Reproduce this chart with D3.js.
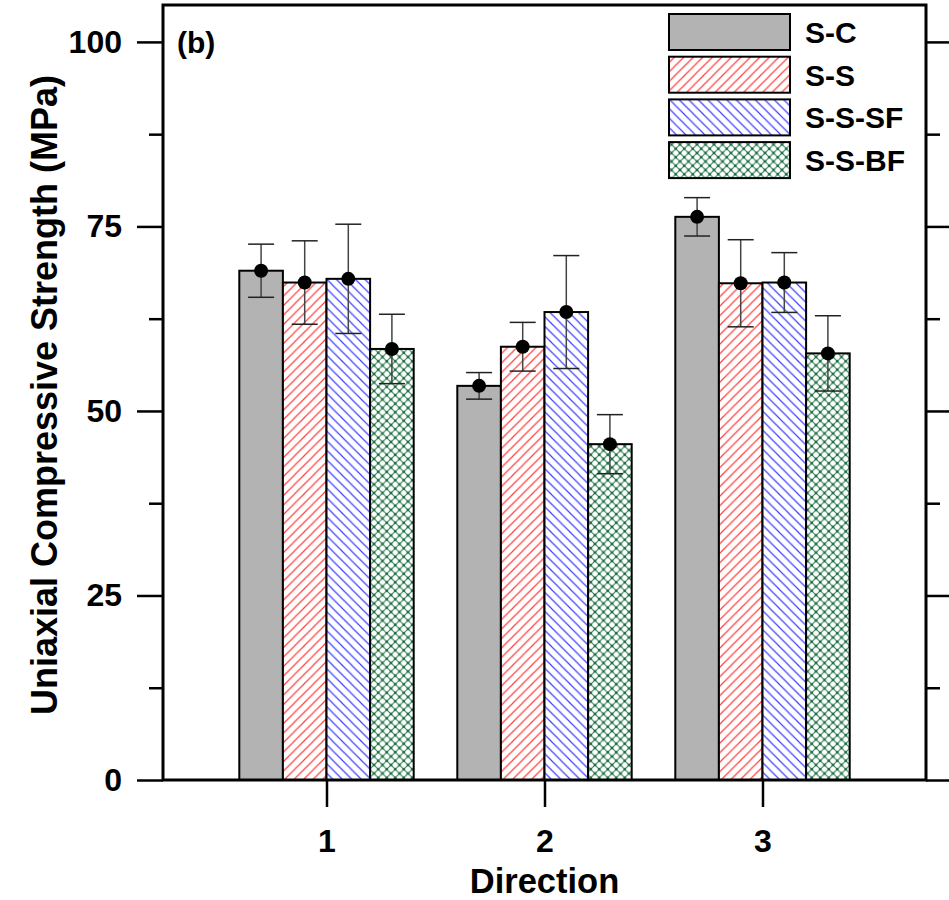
<!DOCTYPE html>
<html>
<head>
<meta charset="utf-8">
<script src="https://cdn.jsdelivr.net/npm/d3@7"></script>
<style>
  html, body { margin: 0; padding: 0; background: #fff; }
  svg { display: block; }
  text { font-family: "Liberation Sans", Arial, sans-serif; font-weight: bold; fill: #000; }
</style>
</head>
<body>
<svg id="chart" width="949" height="900"></svg>
<script>
// ---- Data ----
const categories = [1, 2, 3];
const seriesNames = ["S-C", "S-S", "S-S-SF", "S-S-BF"];
const scMean   = [69.0, 53.4, 76.3];
const scErr    = [3.6, 1.8, 2.6];
const ssMean   = [67.4, 58.7, 67.3];
const ssErr    = [5.65, 3.3, 5.9];
const sssfMean = [67.9, 63.4, 67.4];
const sssfErr  = [7.4, 7.65, 4.05];
const ssbfMean = [58.4, 45.5, 57.8];
const ssbfErr  = [4.7, 4.0, 5.1];
const yMajorTicks = [0, 25, 50, 75, 100];
const yMinorTicks = [12.5, 37.5, 62.5, 87.5];
const xTickLabels = ["1", "2", "3"];

const seriesMeans = [scMean, ssMean, sssfMean, ssbfMean];
const seriesErrs  = [scErr, ssErr, sssfErr, ssbfErr];
const fills = ["#b3b3b3", "url(#hatchRed)", "url(#hatchBlue)", "url(#crossGreen)"];

// ---- Layout ----
const L = 163, R = 926, T = 5, B = 780;
const svg = d3.select("#chart");
const x = d3.scaleLinear().domain([0.25, 3.75]).range([L, R]);
const y = d3.scaleLinear().domain([0, 105]).range([B, T]);
const barW = 0.2;
const offsets = [-0.3, -0.1, 0.1, 0.3];

// ---- Patterns ----
const defs = svg.append("defs");
function hatch(id, color, dir, sp) {
  const p = defs.append("pattern").attr("id", id).attr("patternUnits", "userSpaceOnUse")
    .attr("width", sp).attr("height", sp);
  p.append("rect").attr("width", sp).attr("height", sp).attr("fill", "#fff");
  if (dir > 0) {
    p.append("path").attr("d", `M0,${sp} L${sp},0 M${-sp/2},${sp/2} L${sp/2},${-sp/2} M${sp/2},${sp*1.5} L${sp*1.5},${sp/2}`)
      .attr("stroke", color).attr("stroke-width", 1.2);
  } else {
    p.append("path").attr("d", `M0,0 L${sp},${sp} M${-sp/2},${sp/2} L${sp/2},${sp*1.5} M${sp/2},${-sp/2} L${sp*1.5},${sp/2}`)
      .attr("stroke", color).attr("stroke-width", 1.2);
  }
}
hatch("hatchRed", "#ff4040", 1, 9.5);
hatch("hatchBlue", "#4040ff", -1, 9.5);
(function () {
  const sp = 8.5;
  const p = defs.append("pattern").attr("id", "crossGreen").attr("patternUnits", "userSpaceOnUse")
    .attr("width", sp).attr("height", sp);
  p.append("rect").attr("width", sp).attr("height", sp).attr("fill", "#fff");
  p.append("path").attr("d", `M0,0 L${sp},${sp} M0,${sp} L${sp},0`)
    .attr("stroke", "#2a7d50").attr("stroke-width", 1.1);
  [[0,0],[sp,0],[0,sp],[sp,sp],[sp/2,sp/2]].forEach(([cx, cy]) =>
    p.append("circle").attr("cx", cx).attr("cy", cy).attr("r", 1.4).attr("fill", "#1d6b40"));
})();

// ---- Bars ----
seriesNames.forEach((name, si) => {
  const g = svg.append("g");
  g.selectAll("rect").data(categories).enter().append("rect")
    .attr("x", (c) => x(c + offsets[si] - barW / 2))
    .attr("width", (c) => x(c + offsets[si] + barW / 2) - x(c + offsets[si] - barW / 2))
    .attr("y", (c, i) => y(seriesMeans[si][i]))
    .attr("height", (c, i) => y(0) - y(seriesMeans[si][i]))
    .attr("fill", fills[si]).attr("stroke", "#000").attr("stroke-width", 2);
});

// ---- Error bars + points ----
const capHalf = 13;
seriesNames.forEach((name, si) => {
  const g = svg.append("g");
  categories.forEach((c, i) => {
    const cx = x(c + offsets[si]);
    const m = seriesMeans[si][i], e = seriesErrs[si][i];
    g.append("line").attr("x1", cx).attr("x2", cx).attr("y1", y(m + e)).attr("y2", y(m - e))
      .attr("stroke", "#444").attr("stroke-width", 1.5);
    [m + e, m - e].forEach((v) =>
      g.append("line").attr("x1", cx - capHalf).attr("x2", cx + capHalf).attr("y1", y(v)).attr("y2", y(v))
        .attr("stroke", "#222").attr("stroke-width", 1.5));
    g.append("circle").attr("cx", cx).attr("cy", y(m)).attr("r", 7).attr("fill", "#000");
  });
});

// ---- Axes ----
const fontSize = 32;
function styleAxis(g) {
  g.select(".domain").remove();
  g.selectAll(".tick line").attr("stroke", "#000").attr("stroke-width", 2.5);
  g.selectAll(".tick text").attr("font-size", fontSize).attr("font-family", '"Liberation Sans", Arial, sans-serif').attr("font-weight", "bold");
}
svg.append("g").attr("transform", `translate(${L},0)`)
  .call(d3.axisLeft(y).tickValues(yMajorTicks).tickSize(26).tickPadding(15).tickFormat(d3.format("d")))
  .call(styleAxis);
svg.append("g").attr("transform", `translate(${L},0)`)
  .call(d3.axisLeft(y).tickValues(yMinorTicks).tickSize(14).tickFormat(""))
  .call(styleAxis);
svg.append("g").attr("transform", `translate(${R},0)`)
  .call(d3.axisRight(y).tickValues(yMajorTicks).tickSize(24).tickFormat(""))
  .call(styleAxis);
svg.append("g").attr("transform", `translate(${R},0)`)
  .call(d3.axisRight(y).tickValues(yMinorTicks).tickSize(14).tickFormat(""))
  .call(styleAxis);
svg.append("g").attr("transform", `translate(0,${B})`)
  .call(d3.axisBottom(x).tickValues(categories).tickSize(27).tickPadding(22).tickFormat((d, i) => xTickLabels[i]))
  .call(styleAxis);

// frame
svg.append("rect").attr("x", L).attr("y", T).attr("width", R - L).attr("height", B - T)
  .attr("fill", "none").attr("stroke", "#000").attr("stroke-width", 3);

// ---- Titles ----
svg.append("text").attr("x", x(2)).attr("y", 893).attr("text-anchor", "middle")
  .attr("font-size", 34.5).text("Direction");
svg.append("text").attr("transform", `translate(57,395) rotate(-90)`).attr("text-anchor", "middle")
  .attr("font-size", 36).text("Uniaxial Compressive Strength (MPa)");
svg.append("text").attr("x", 177).attr("y", 53).attr("font-size", 30).text("(b)");

// ---- Legend ----
const lg = svg.append("g");
seriesNames.forEach((name, si) => {
  const yy = 14 + si * 42.7;
  lg.append("rect").attr("x", 669).attr("y", yy).attr("width", 121).attr("height", 36)
    .attr("fill", fills[si]).attr("stroke", "#000").attr("stroke-width", 2);
  lg.append("text").attr("x", 805).attr("y", yy + 29).attr("font-size", 30).text(name);
});
</script>
</body>
</html>
